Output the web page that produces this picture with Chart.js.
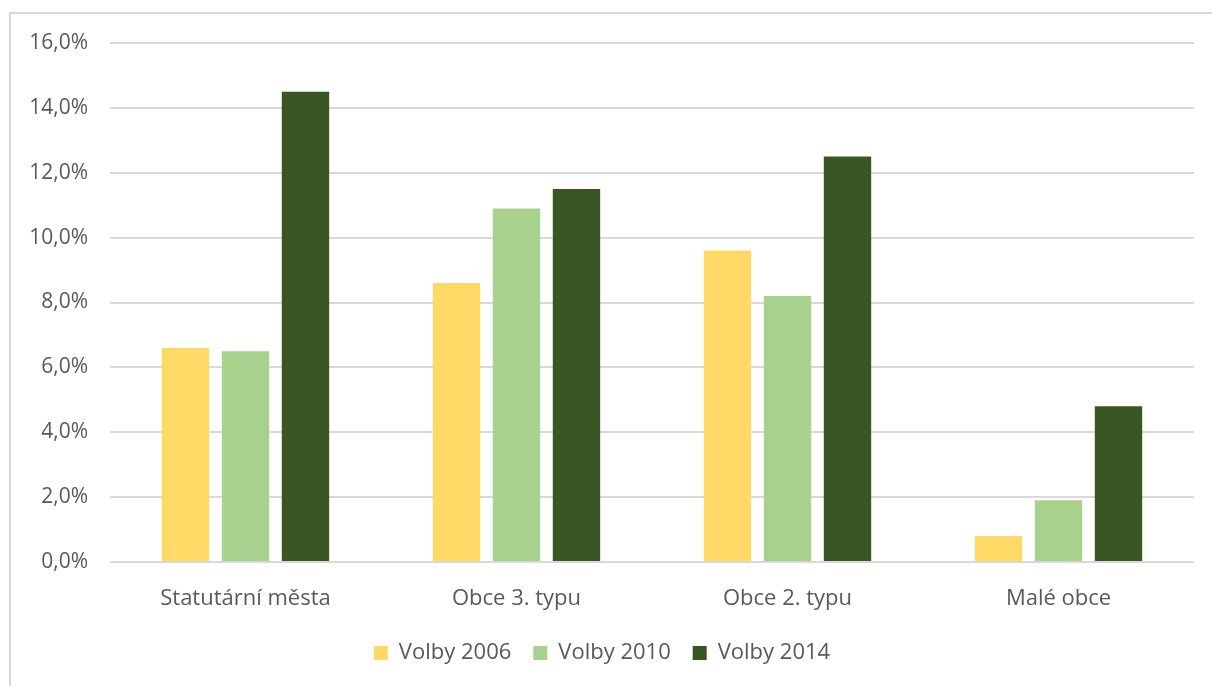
<!DOCTYPE html>
<html>
<head>
<meta charset="utf-8">
<script src="https://cdn.jsdelivr.net/npm/chart.js@4"></script>
<style>
  html, body { margin: 0; padding: 0; background: #fff; }
  body { width: 1212px; height: 686px; overflow: hidden; position: relative; }
  #frame {
    position: absolute; left: 9px; top: 12px; width: 1210px; height: 680px;
    border-left: 2px solid #d9d9d9; border-top: 2px solid #d9d9d9;
  }
  #wrap { position: absolute; left: 0; top: 0; width: 1212px; height: 686px; }
</style>
</head>
<body>
<div id="frame"></div>
<div id="wrap"><canvas id="myChart"></canvas></div>
<script>
const categories = ["Statutární města", "Obce 3. typu", "Obce 2. typu", "Malé obce"];
const volby2006 = [6.6, 8.6, 9.6, 0.8];
const volby2010 = [6.5, 10.9, 8.2, 1.9];
const volby2014 = [14.5, 11.5, 12.5, 4.8];
const seriesNames = ["Volby 2006", "Volby 2010", "Volby 2014"];
const yTicks = [0, 2, 4, 6, 8, 10, 12, 14, 16];

const ctx = document.getElementById("myChart");
const textColor = "#595959";
const fontFamily = "'Open Sans', Lato, sans-serif";

new Chart(ctx, {
  type: "bar",
  data: {
    labels: categories,
    datasets: [
      { label: seriesNames[0], data: volby2006, backgroundColor: "#FFD966" },
      { label: seriesNames[1], data: volby2010, backgroundColor: "#A9D18E" },
      { label: seriesNames[2], data: volby2014, backgroundColor: "#3A5723" },
    ],
  },
  options: {
    responsive: true,
    maintainAspectRatio: false,
    animation: false,
    categoryPercentage: 0.664,
    barPercentage: 0.79,
    layout: { padding: { left: 10, top: 43, right: 18, bottom: 12 } },
    plugins: {
      tooltip: { enabled: false },
      legend: {
        position: "bottom",
        labels: {
          color: textColor,
          font: { family: fontFamily, size: 22 },
          boxWidth: 14,
          boxHeight: 14,
          padding: 22,
        },
      },
    },
    scales: {
      x: {
        grid: { display: false },
        border: { display: false },
        ticks: {
          color: textColor,
          font: { family: fontFamily, size: 22 },
          padding: 16,
        },
        afterFit: (scale) => { scale.height = 58; },
      },
      y: {
        min: 0,
        max: 16,
        afterBuildTicks: (scale) => {
          scale.ticks = yTicks.map((v) => ({ value: v }));
        },
        grid: { color: "#d9d9d9", lineWidth: 2, drawTicks: false },
        border: { display: false },
        ticks: {
          color: textColor,
          font: { family: fontFamily, size: 21 },
          padding: 22,
          callback: (v) => v.toFixed(1).replace(".", ",") + "%",
        },
        afterFit: (scale) => { scale.width = 100; },
      },
    },
  },
});
</script>
</body>
</html>
